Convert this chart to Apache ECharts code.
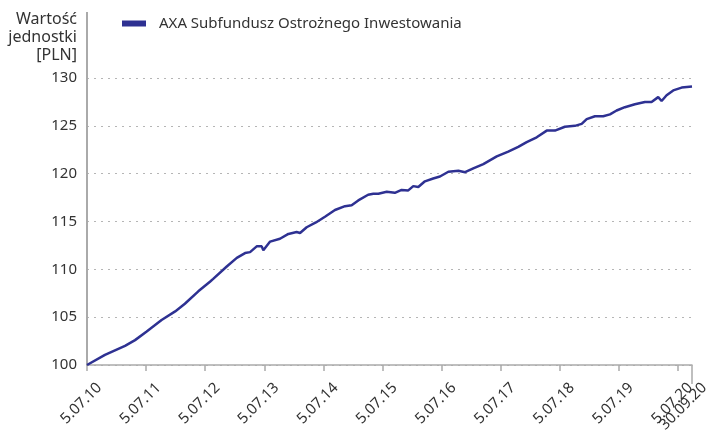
<!DOCTYPE html>
<html>
<head>
<meta charset="utf-8">
<script src="https://cdn.jsdelivr.net/npm/echarts@6/dist/echarts.min.js"></script>
<style>
  html, body { margin: 0; padding: 0; background: #fff; }
  #main { width: 706px; height: 430px; }
</style>
</head>
<body>
<div id="main"></div>
<script>
// dane
const seriesName = "AXA Subfundusz Ostrożnego Inwestowania";
const startDate = "2010-07-05";
const endDate = "2020-09-30";
const dates = [
  "2010-07-05", "2010-10-24", "2011-02-25", "2011-04-28", "2011-07-09", "2011-10-09",
  "2012-01-01", "2012-03-01", "2012-05-23", "2012-08-03", "2012-08-23", "2012-11-15",
  "2013-01-16", "2013-03-08", "2013-04-08", "2013-05-19", "2013-06-19", "2013-06-29",
  "2013-08-10", "2013-10-10", "2013-12-01", "2014-01-21", "2014-02-11", "2014-03-24",
  "2014-05-20", "2014-07-15", "2014-09-15", "2014-11-16", "2014-12-27", "2015-02-06",
  "2015-04-08", "2015-05-10", "2015-06-10", "2015-08-01", "2015-09-20", "2015-11-01",
  "2015-12-12", "2016-01-12", "2016-02-12", "2016-03-24", "2016-05-14", "2016-06-25",
  "2016-08-16", "2016-10-17", "2016-11-27", "2017-01-17", "2017-03-20", "2017-06-11",
  "2017-08-21", "2017-10-22", "2017-12-13", "2018-02-13", "2018-04-16", "2018-06-06",
  "2018-08-06", "2018-10-07", "2018-11-18", "2018-12-19", "2019-02-08", "2019-03-31",
  "2019-05-12", "2019-06-22", "2019-08-12", "2019-10-13", "2019-12-14", "2020-01-24",
  "2020-03-05", "2020-03-26", "2020-04-26", "2020-06-06", "2020-07-28", "2020-09-30"
];
const values = [
  100.0, 101.05, 102.0, 102.6, 103.5, 104.7,
  105.6, 106.4, 107.7, 108.7, 109.0, 110.3,
  111.2, 111.7, 111.8, 112.4, 112.4, 112.0,
  112.9, 113.2, 113.7, 113.9, 113.8, 114.4,
  114.9, 115.5, 116.2, 116.6, 116.7, 117.2,
  117.8, 117.9, 117.9, 118.1, 118.0, 118.3,
  118.25, 118.7, 118.6, 119.2, 119.5, 119.7,
  120.2, 120.3, 120.15, 120.55, 121.0, 121.8,
  122.3, 122.8, 123.3, 123.8, 124.5, 124.5,
  124.9, 125.0, 125.2, 125.7, 126.0, 126.0,
  126.2, 126.6, 126.95, 127.25, 127.5, 127.5,
  128.0, 127.6, 128.2, 128.7, 129.0, 129.1
];
// etykiety co rok (5 lipca) + data końcowa
const xTickLabels = [
  "5.07.10", "5.07.11", "5.07.12", "5.07.13", "5.07.14", "5.07.15",
  "5.07.16", "5.07.17", "5.07.18", "5.07.19", "5.07.20"
];
const endLabel = "30.09.20";

const DAY = 86400000;
const YEAR = 365.25;
const t0 = Date.parse(startDate);
const dayOf = (d) => (Date.parse(d) - t0) / DAY;
const lastDay = dayOf(endDate);
const points = dates.map((d, i) => [dayOf(d), values[i]]);
const yearTicks = xTickLabels.map((_, i) => i * YEAR);

const textColor = "#333";
const axisGray = "#aaa";
const font = "'Noto Sans', sans-serif";

const labelStyle = {
  rotate: 45,
  margin: 8,
  fontSize: 15,
  color: textColor,
  fontFamily: font,
  verticalAlign: "top",
  padding: [10, 0, 0, 0]
};

const chart = echarts.init(document.getElementById("main"));
chart.setOption({
  animation: false,
  textStyle: { fontFamily: font },
  legend: {
    data: [seriesName],
    left: 117,
    top: 11,
    icon: "rect",
    itemWidth: 24,
    itemHeight: 6,
    textStyle: { fontSize: 15, color: textColor, fontFamily: font, padding: [0, 0, 0, 8] }
  },
  grid: { left: 87, right: 14, top: 78, bottom: 65, outerBoundsMode: "none" },
  xAxis: [
    {
      type: "value",
      min: 0,
      max: lastDay,
      axisLine: { show: true, lineStyle: { color: axisGray, width: 1.5 } },
      axisTick: { show: true, length: 6, customValues: yearTicks, lineStyle: { color: axisGray, width: 1.5 } },
      splitLine: { show: false },
      axisLabel: Object.assign({}, labelStyle, {
        customValues: yearTicks,
        formatter: (v) => xTickLabels[Math.round(v / YEAR)] || ""
      })
    },
    {
      // koniec okresu: 30.09.20
      type: "value",
      position: "bottom",
      min: 0,
      max: lastDay,
      axisLine: { show: false },
      axisTick: { show: true, length: 19, customValues: [lastDay], lineStyle: { color: axisGray, width: 1.5 } },
      splitLine: { show: false },
      axisLabel: Object.assign({}, labelStyle, {
        customValues: [lastDay],
        formatter: () => endLabel
      })
    }
  ],
  yAxis: {
    type: "value",
    min: 100,
    max: 130,
    interval: 5,
    name: "Wartość\njednostki\n[PLN]",
    nameLocation: "end",
    nameGap: 14,
    nameTextStyle: {
      align: "right",
      verticalAlign: "bottom",
      fontSize: 16,
      lineHeight: 18,
      color: textColor,
      fontFamily: font,
      padding: [0, 10, 0, 0]
    },
    axisLine: { show: true, lineStyle: { color: axisGray, width: 2 } },
    axisTick: { show: false },
    axisLabel: { fontSize: 15, color: textColor, margin: 10, fontFamily: font },
    splitLine: { show: true, lineStyle: { color: "#b5b5b5", type: [2, 5], width: 1 } }
  },
  graphic: [
    {
      type: "line",
      shape: { x1: 87, y1: 12, x2: 87, y2: 78 },
      style: { stroke: axisGray, lineWidth: 2 }
    }
  ],
  series: [
    {
      name: seriesName,
      type: "line",
      data: points,
      showSymbol: false,
      lineStyle: { color: "#2e3192", width: 2.5 },
      itemStyle: { color: "#2e3192" }
    }
  ]
});
</script>
</body>
</html>
